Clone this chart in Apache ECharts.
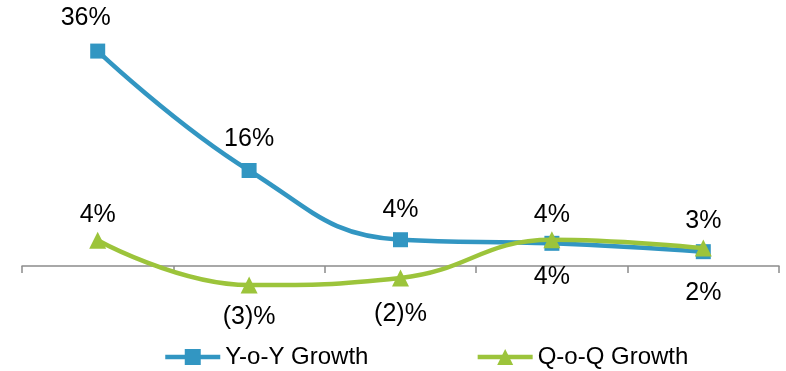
<!DOCTYPE html>
<html>
<head>
<meta charset="utf-8">
<script src="https://cdn.jsdelivr.net/npm/echarts@6/dist/echarts.min.js"></script>
<style>
  html, body { margin: 0; padding: 0; background: #fff; }
  #chart { width: 786px; height: 371px; }
</style>
</head>
<body>
<div id="chart"></div>
<script>
// Quarterly periods (unlabelled on the axis)
const periods = ['P1', 'P2', 'P3', 'P4', 'P5'];
// Growth rates in percent
const yoyGrowth = [36.0, 16.0, 4.4, 3.8, 2.4];
const qoqGrowth = [4.3, -3.2, -2.0, 4.4, 3.0];
// Where each value label sits relative to its point
const yoyLabelPos = ['top', 'top', 'top', 'bottom', 'bottom'];
const qoqLabelPos = ['top', 'bottom', 'bottom', 'top', 'top'];

const LABEL_FONT = 'Liberation Sans, Arial, sans-serif';
const BLUE = '#3296C2';
const GREEN = '#9CC43B';

function pctText(v) {
  const r = Math.round(Math.abs(v));
  return v < 0 ? '(' + r + ')%' : r + '%';
}

function labelled(values, positions, dist, offsets) {
  return values.map((v, i) => ({
    value: v,
    label: {
      position: positions[i],
      distance: dist[i],
      offset: offsets[i] || [0, 0]
    }
  }));
}

const chart = echarts.init(document.getElementById('chart'), null, { renderer: 'canvas' });

chart.setOption({
  animation: false,
  backgroundColor: '#ffffff',
  grid: { left: 22, right: 7, top: 27.2, height: 298.5, containLabel: false },
  xAxis: {
    type: 'category',
    data: periods,
    boundaryGap: true,
    axisLine: { onZero: true, lineStyle: { color: '#8c8c8c', width: 1.5 } },
    axisTick: { show: true, alignWithLabel: false, length: 7, lineStyle: { color: '#8c8c8c', width: 1.5 } },
    axisLabel: { show: false },
    splitLine: { show: false }
  },
  yAxis: {
    type: 'value',
    min: -10,
    max: 40,
    show: false,
    splitLine: { show: false }
  },
  legend: {
    left: 163,
    top: 345,
    padding: 0,
    itemWidth: 55,
    itemHeight: 20,
    itemGap: 107,
    lineStyle: { width: 4.5 },
    textStyle: { fontFamily: LABEL_FONT, fontSize: 24, color: '#000' },
    data: ['Y-o-Y Growth', 'Q-o-Q Growth']
  },
  series: [
    {
      name: 'Y-o-Y Growth',
      type: 'line',
      smooth: 0.45,
      symbol: 'rect',
      symbolSize: 15,
      itemStyle: { color: BLUE },
      lineStyle: { color: BLUE, width: 4.5 },
      label: {
        show: true,
        fontFamily: LABEL_FONT,
        fontSize: 25,
        color: '#000',
        formatter: p => pctText(p.value)
      },
      data: labelled(yoyGrowth, yoyLabelPos, [13, 11, 10, 14, 21], [[-12, 0]]),
      z: 2
    },
    {
      name: 'Q-o-Q Growth',
      type: 'line',
      smooth: 0.45,
      symbol: 'triangle',
      symbolSize: 17,
      itemStyle: { color: GREEN },
      lineStyle: { color: GREEN, width: 4.5 },
      label: {
        show: true,
        fontFamily: LABEL_FONT,
        fontSize: 25,
        color: '#000',
        formatter: p => pctText(p.value)
      },
      data: labelled(qoqGrowth, qoqLabelPos, [4, 11, 15, 4, 6], []),
      z: 3
    }
  ]
});
</script>
</body>
</html>
